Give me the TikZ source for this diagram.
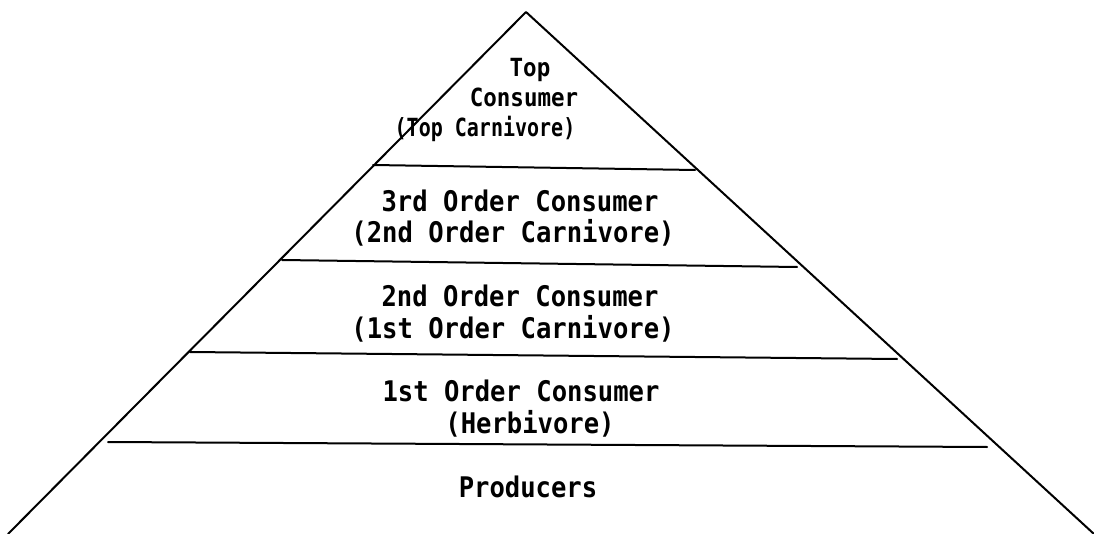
\documentclass[tikz,border=0pt]{standalone}
\usepackage{fontspec}
\newfontfamily\typefont[FakeStretch=0.9]{DejaVu Sans Mono}
\newfontfamily\narrowtype[FakeStretch=0.8]{DejaVu Sans Mono}
\begin{document}
\begin{tikzpicture}[
        x=1pt, y=-1pt,
        line cap=round,
        line join=round,
        edge/.style={line width=2pt},
        level/.style={anchor=base, inner sep=0pt, font=\typefont\bfseries\fontsize{28.4}{32}\selectfont},
        toplevel/.style={level, font=\typefont\bfseries\fontsize{25}{30}\selectfont}
    ]
        \useasboundingbox (0,0) rectangle (1094,534);
        % Outline of the pyramid
        \coordinate (apex) at (526,12);
        \coordinate (baseL) at (8,534);
        \coordinate (baseR) at (1094,534);
        \draw[edge] (baseL) -- (apex) -- (baseR);
        % Dividing lines between the levels
        \coordinate (L1a) at (373,165);
        \coordinate (L1b) at (695,170);
        \coordinate (L2a) at (282,260);
        \coordinate (L2b) at (797,267);
        \coordinate (L3a) at (190,352);
        \coordinate (L3b) at (897,359);
        \coordinate (L4a) at (108,442);
        \coordinate (L4b) at (987,447);
        \foreach \i in {1,2,3,4}{
            \draw[edge] (L\i a) -- (L\i b);
        }
        % Level labels
        \node[toplevel] (top1) at (530,77)  {Top};
        \node[toplevel] (top2) at (524,107) {Consumer};
        \node[toplevel, font=\narrowtype\bfseries\fontsize{25}{30}\selectfont] (top3) at (485,137) {(Top Carnivore)};
        \node[level] (third1) at (520,212) {3rd Order Consumer};
        \node[level] (third2) at (513,243) {(2nd Order Carnivore)};
        \node[level] (second1) at (520,307) {2nd Order Consumer};
        \node[level] (second2) at (513,338) {(1st Order Carnivore)};
        \node[level] (first1) at (521,401) {1st Order Consumer};
        \node[level] (first2) at (530,433) {(Herbivore)};
        \node[level] (prod) at (528,497) {Producers};
    \end{tikzpicture}
\end{document}
